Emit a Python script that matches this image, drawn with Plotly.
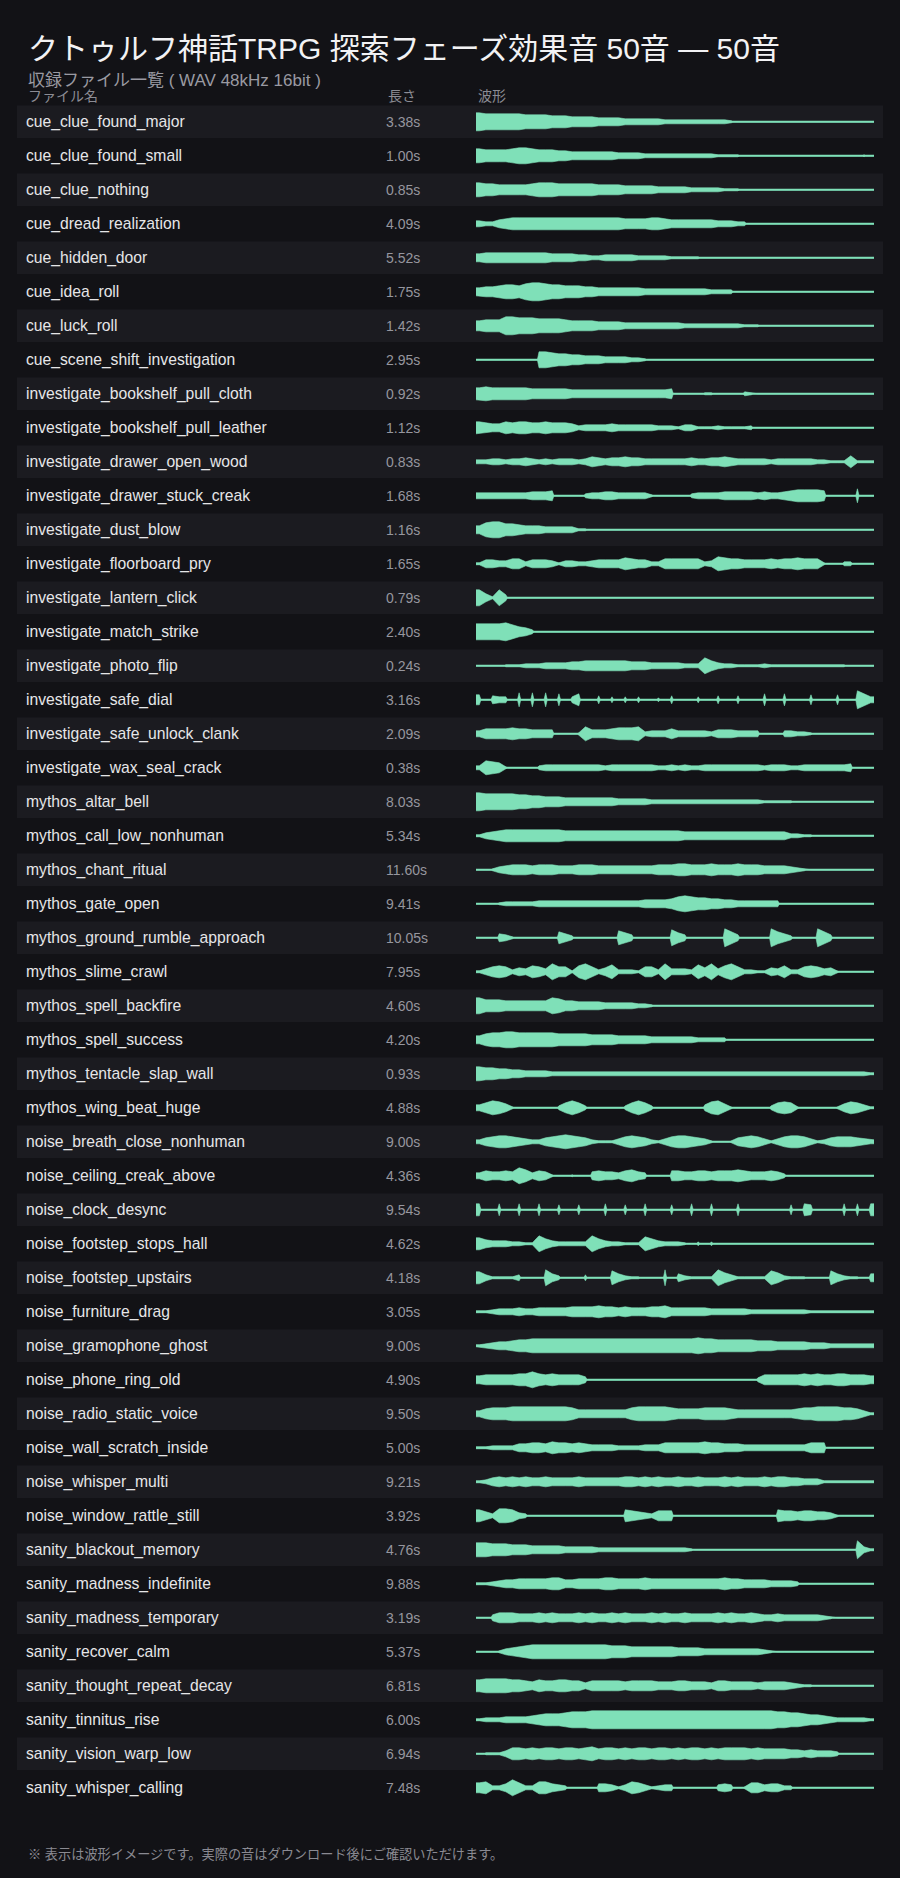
import plotly.graph_objects as go

# File list shown in the table
file_names = [
    "cue_clue_found_major", "cue_clue_found_small", "cue_clue_nothing",
    "cue_dread_realization", "cue_hidden_door", "cue_idea_roll", "cue_luck_roll",
    "cue_scene_shift_investigation", "investigate_bookshelf_pull_cloth",
    "investigate_bookshelf_pull_leather", "investigate_drawer_open_wood",
    "investigate_drawer_stuck_creak", "investigate_dust_blow",
    "investigate_floorboard_pry", "investigate_lantern_click",
    "investigate_match_strike", "investigate_photo_flip", "investigate_safe_dial",
    "investigate_safe_unlock_clank", "investigate_wax_seal_crack",
    "mythos_altar_bell", "mythos_call_low_nonhuman", "mythos_chant_ritual",
    "mythos_gate_open", "mythos_ground_rumble_approach", "mythos_slime_crawl",
    "mythos_spell_backfire", "mythos_spell_success", "mythos_tentacle_slap_wall",
    "mythos_wing_beat_huge", "noise_breath_close_nonhuman",
    "noise_ceiling_creak_above", "noise_clock_desync", "noise_footstep_stops_hall",
    "noise_footstep_upstairs", "noise_furniture_drag", "noise_gramophone_ghost",
    "noise_phone_ring_old", "noise_radio_static_voice", "noise_wall_scratch_inside",
    "noise_whisper_multi", "noise_window_rattle_still", "sanity_blackout_memory",
    "sanity_madness_indefinite", "sanity_madness_temporary", "sanity_recover_calm",
    "sanity_thought_repeat_decay", "sanity_tinnitus_rise", "sanity_vision_warp_low",
    "sanity_whisper_calling",
]

# Length of each clip in seconds
durations = [
    3.38, 1.00, 0.85, 4.09, 5.52, 1.75, 1.42, 2.95, 0.92, 1.12,
    0.83, 1.68, 1.16, 1.65, 0.79, 2.40, 0.24, 3.16, 2.09, 0.38,
    8.03, 5.34, 11.60, 9.41, 10.05, 7.95, 4.60, 4.20, 0.93, 4.88,
    9.00, 4.36, 9.54, 4.62, 4.18, 3.05, 9.00, 4.90, 9.50, 5.00,
    9.21, 3.92, 4.76, 9.88, 3.19, 5.37, 6.81, 6.00, 6.94, 7.48,
]

# Waveform envelopes: one digit (0-9) per 1/60 of the clip,
# giving the half height of the waveform at that point
envelopes = [
    "988888877776665555444433333322222222221000000000000000000000",
    "766667887666554444444333322222222222111100000000000000000010",
    "766555556777666666555544444333332222211100000000000000000000",
    "322456666666666666666655556654444444333220000000000000000000",
    "455555555554444332233333222221111100000000000000000000000000",
    "455677689987766655444444433333333332222000000000000000000000",
    "566699888777765555444433333333322222222211100000000000000000",
    "000000000887665544433332210000000000000000000000000000000000",
    "676666665555554444444444444445000011000021000000000000000000",
    "654465665565554233334333333222133111211112000000000000000000",
    "223323343232333235434454433333334334454333332333333221116111",
    "333333334445000023344333331000002333344444343345666650000700",
    "478866544433333110000000000000000000000000000000000000000000",
    "144335524443133223444465442255555523765544445455655510022000",
    "841830000000000000000000000000000000000000000000000000000000",
    "888897542000000000000000000000000000000000000000000000000000",
    "000011122233334455555554443333322285322111121111111111110000",
    "504330707070603600403030300204000300400400060060005000500963",
    "355556554444000174445666723335333332444333300033221000000000",
    "276510000233333333323333333223232233333333323332233333334000",
    "988888776655544444444333332222222222222222211111000000000000",
    "134566666666655555555555555555544444444444444442211000000000",
    "001345554555444555444444444555665556555655544443210000000000",
    "000122222333333333333333344445787665544333333300000000000000",
    "000431000000642000000753000008530000096300009642000963000000",
    "135652436538551685247222155283332748368522114362256534100000",
    "866655555558755444433333221000000000000000000000000000000000",
    "467788777777666665555444443333333222220000000000000000000000",
    "766554433332222222222222222222222222222222222222222222222221",
    "357641000000257520000025752000000036741000002565100000146531",
    "245665432245676542111356542135665431001456531356653124555432",
    "354454863541001004544356430005544554555654445420000000000000",
    "600600600600500500060050060005006006000600000005065000060606",
    "643332211853222228532211175322210202000000000000000000000000",
    "631111300084200030007421100080421111853111117521110007421104",
    "112333433444445555655454445564444443333332222222221111111111",
    "123445667777777777777777777777777877666666555444443332222222",
    "455555668656555530000000000000000000000000255555565655665554",
    "356667777777776444444446777776555566665444444444566777766531",
    "112222445546554543333222233355555565544433333333335550000000",
    "124545454454444544444455454544544544454544454554433311111111",
    "642776320000000000000065432555000000000000000655455443100000",
    "776665554444433333222222222222221000000000000000000000000931",
    "112344555556644555566555565555555555565544443333200000000000",
    "003555444545444545445454445454454444545445433433333321000000",
    "000134567777777777776665555555444433333333321000000000000000",
    "677776654655665535555545555444554443554444344443211000000000",
    "122233334566678889999999999999999999999999999887765543222221",
    "011136656566566567566565665665656656566665655554434333200000",
    "562248522664320000443136531233000000343015534422000000000000",
]

BG = "#121216"
BAND = "#1b1b20"
WAVE = "#7fe0b8"
FONT = "Liberation Sans, Noto Sans CJK JP, sans-serif"

ROW_PX = 34           # row pitch in pixels
FIRST_ROW_PX = 121.8  # centre of the first row
TEXT_DROP = 1.5 / ROW_PX  # labels sit a little below the waveform centre
HEIGHT = 1878
WIDTH = 900
PX = 1.0 / ROW_PX     # one pixel in row units

rows = list(range(len(file_names)))
text_rows = [i + TEXT_DROP for i in rows]


def envelope_points(levels):
    """Points of the envelope; edges next to silence are kept sharp."""
    n = len(levels)
    dt = 1.0 / n
    pts = [(0.0, levels[0])]
    for j, a in enumerate(levels):
        t = (j + 0.5) * dt
        if j > 0 and levels[j - 1] == 0 and a > 0:
            pts.append((t - 0.25 * dt, 0))
        pts.append((t, a))
        if j < n - 1 and a > 0 and levels[j + 1] == 0:
            pts.append((t + 0.25 * dt, 0))
    pts.append((1.0, levels[-1]))
    return pts


# waveform polygons and centre lines (x in 0..1 of the waveform column)
wx, wy, lx, ly = [], [], [], []
for i, env in zip(rows, envelopes):
    pts = envelope_points([int(c) for c in env])
    ts = [p[0] for p in pts]
    upper = [i - p[1] * PX for p in pts]
    lower = [i + p[1] * PX for p in pts]
    wx += ts + ts[::-1] + [None]
    wy += upper + lower[::-1] + [None]
    lx += [0.0, 1.0, None]
    ly += [i, i, None]

fig = go.Figure()

# alternating row bands
band_rows = [i for i in rows if i % 2 == 0]
fig.add_trace(go.Bar(
    y=band_rows, x=[866] * len(band_rows), base=17, orientation="h",
    width=32.5 / ROW_PX, marker=dict(color=BAND, line=dict(width=0)),
    hoverinfo="skip",
))

# file names
fig.add_trace(go.Scatter(
    x=[26] * len(rows), y=text_rows, mode="text", text=file_names,
    textposition="middle right",
    textfont=dict(family=FONT, size=15.7, color="#e6e6e8"),
    hoverinfo="skip",
))

# durations
fig.add_trace(go.Scatter(
    x=[386] * len(rows), y=text_rows, mode="text",
    text=[f"{d:.2f}s" for d in durations],
    textposition="middle right",
    textfont=dict(family=FONT, size=14, color="#96969e"),
    hoverinfo="skip",
))

# waveforms
fig.add_trace(go.Scatter(
    x=lx, y=ly, xaxis="x2", yaxis="y", mode="lines",
    line=dict(color=WAVE, width=2), hoverinfo="skip",
))
fig.add_trace(go.Scatter(
    x=wx, y=wy, xaxis="x2", yaxis="y", mode="lines", fill="toself",
    fillcolor=WAVE, line=dict(color=WAVE, width=0.6), hoverinfo="skip",
))

top = -FIRST_ROW_PX / ROW_PX
bottom = (HEIGHT - FIRST_ROW_PX) / ROW_PX

annotations = [
    dict(text="クトゥルフ神話TRPG 探索フェーズ効果音 50音 — 50音",
         x=26 / WIDTH, y=1 - 48 / HEIGHT, font=dict(size=30, color="#f2f2f4")),
    dict(text="収録ファイル一覧 ( WAV 48kHz 16bit )",
         x=26 / WIDTH, y=1 - 80 / HEIGHT, font=dict(size=17, color="#9a9aa2")),
    dict(text="※ 表示は波形イメージです。実際の音はダウンロード後にご確認いただけます。",
         x=26 / WIDTH, y=1 - 1854 / HEIGHT, font=dict(size=13.2, color="#8a8a92")),
]
for a in annotations:
    a.update(xref="paper", yref="paper", xanchor="left", yanchor="middle",
             showarrow=False)
    a["font"]["family"] = FONT

# column headers
for label, xpos in [("ファイル名", 26), ("長さ", 386), ("波形", 476)]:
    annotations.append(dict(
        text=label, x=xpos, y=(96 - FIRST_ROW_PX) / ROW_PX, xref="x", yref="y",
        xanchor="left", yanchor="middle", showarrow=False,
        font=dict(family=FONT, size=14, color="#8c8c94"),
    ))

fig.update_layout(
    width=WIDTH, height=HEIGHT,
    margin=dict(l=0, r=0, t=0, b=0),
    paper_bgcolor=BG, plot_bgcolor="rgba(0,0,0,0)",
    showlegend=False,
    barmode="overlay",
    xaxis=dict(range=[0, WIDTH], visible=False, fixedrange=True),
    xaxis2=dict(domain=[476 / WIDTH, 874 / WIDTH], range=[0, 1], anchor="y",
                visible=False, fixedrange=True),
    yaxis=dict(range=[bottom, top], visible=False, fixedrange=True),
    annotations=annotations,
)

fig.write_html(
    "out.html",
    config={"displayModeBar": False},
    post_script="document.body.style.margin='0';"
                "document.body.style.background='%s';" % BG,
)
